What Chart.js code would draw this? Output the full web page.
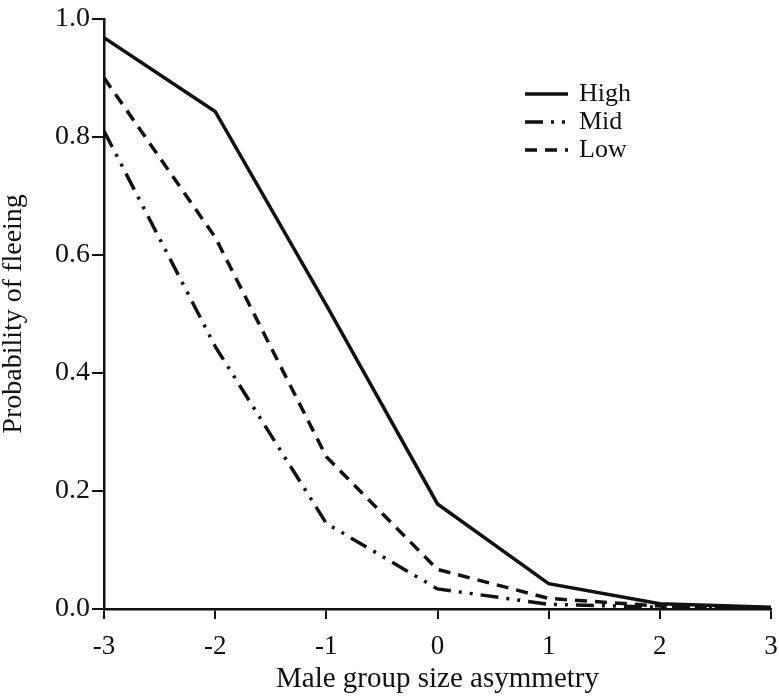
<!DOCTYPE html>
<html>
<head>
<meta charset="utf-8">
<script src="https://cdn.jsdelivr.net/npm/chart.js@4/dist/chart.umd.min.js"></script>
<style>
  html, body { margin: 0; padding: 0; background: #fff; }
  #wrap { width: 779px; height: 700px; }
</style>
</head>
<body>
<div id="wrap"><canvas id="chart" width="779" height="700"></canvas></div>
<script>
// asymmetry values on the x axis
const asymmetry = [-3, -2, -1, 0, 1, 2, 3];
// probability of fleeing
const highVals = [0.968, 0.843, 0.515, 0.178, 0.043, 0.009, 0.003];
const midVals  = [0.810, 0.445, 0.145, 0.034, 0.008, 0.003, 0.001];
const lowVals  = [0.900, 0.630, 0.258, 0.067, 0.018, 0.005, 0.002];
const seriesNames = ['High', 'Mid', 'Low'];
const yTicks = [0, 0.2, 0.4, 0.6, 0.8, 1.0];

const serif = "'Liberation Serif', 'DejaVu Serif', serif";
const ink = '#111';

const toPoints = vals => asymmetry.map((x, i) => ({ x: x, y: vals[i] }));

// legend drawn in the top right corner, uses the dataset dash styles
const cornerLegend = {
    id: 'cornerLegend',
    afterDraw(chart) {
        const ctx = chart.ctx;
        ctx.save();
        ctx.font = '26px ' + serif;
        ctx.textBaseline = 'middle';
        ctx.fillStyle = ink;
        chart.data.datasets.forEach((ds, i) => {
            const y = 94 + i * 28;
            ctx.beginPath();
            ctx.setLineDash(ds.borderDash || []);
            ctx.lineWidth = ds.borderWidth;
            ctx.strokeStyle = ds.borderColor;
            ctx.moveTo(525, y);
            ctx.lineTo(568, y);
            ctx.stroke();
            ctx.setLineDash([]);
            ctx.fillText(ds.label, 579, y);
        });
        ctx.restore();
    }
};

new Chart(document.getElementById('chart'), {
    type: 'line',
    data: {
        datasets: [
            { label: seriesNames[0], data: toPoints(highVals), borderColor: ink, borderWidth: 3.5, borderDash: [] },
            { label: seriesNames[1], data: toPoints(midVals), borderColor: ink, borderWidth: 3.5, borderDash: [18, 8, 3, 8, 3, 8] },
            { label: seriesNames[2], data: toPoints(lowVals), borderColor: ink, borderWidth: 3.5, borderDash: [12, 8] }
        ]
    },
    options: {
        responsive: false,
        animation: false,
        layout: { padding: { top: 16, right: 8, left: 0, bottom: 0 } },
        elements: { point: { radius: 0 }, line: { tension: 0, fill: false } },
        plugins: { legend: { display: false }, tooltip: { enabled: false } },
        scales: {
            x: {
                type: 'linear',
                min: -3,
                max: 3,
                afterFit: s => { s.height = 91; s.paddingLeft = 0; s.paddingRight = 0; },
                afterBuildTicks: s => { s.ticks = asymmetry.map(v => ({ value: v })); },
                grid: { drawOnChartArea: false, color: ink, lineWidth: 2, tickLength: 10 },
                border: { color: ink, width: 2.5 },
                ticks: { color: ink, font: { family: serif, size: 27 }, padding: 12, maxRotation: 0 },
                title: { display: true, text: 'Male group size asymmetry', color: ink,
                         font: { family: serif, size: 29, lineHeight: 1.2 }, padding: { top: 0, bottom: 3 } }
            },
            y: {
                min: 0,
                max: 1,
                afterFit: s => { s.width = 104; },
                afterBuildTicks: s => { s.ticks = yTicks.map(v => ({ value: v })); },
                grid: { drawOnChartArea: false, color: ink, lineWidth: 2, tickLength: 12 },
                border: { color: ink, width: 2.5 },
                ticks: { color: ink, font: { family: serif, size: 28 }, padding: 2,
                         callback: v => v.toFixed(1) },
                title: { display: true, text: 'Probability of fleeing', color: ink,
                         font: { family: serif, size: 28, lineHeight: 1 }, padding: 0 }
            }
        }
    },
    plugins: [cornerLegend]
});
</script>
</body>
</html>
